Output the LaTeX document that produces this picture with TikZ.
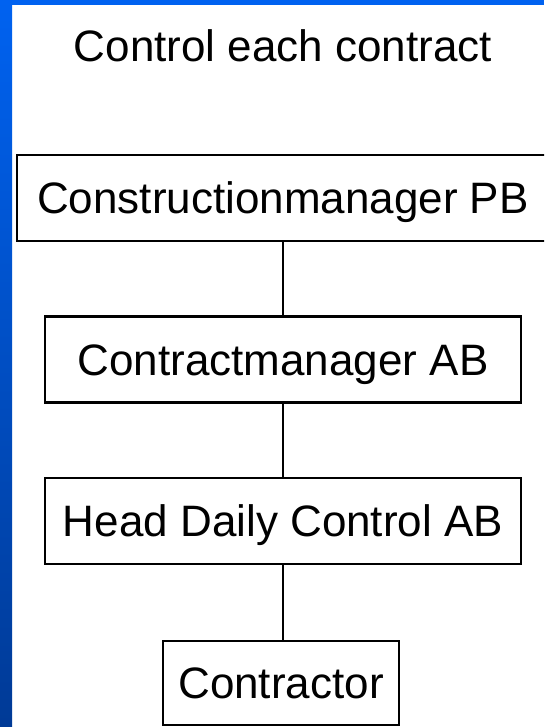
\documentclass[tikz,border=0pt]{standalone}
\usepackage{fontspec}
\setmainfont{Liberation Sans}
\definecolor{bluetop}{RGB}{0,98,240}
\definecolor{bluebot}{RGB}{0,58,150}
\tikzset{
  orgbox/.style={draw=black, line width=2.5pt, fill=white, inner sep=0pt,
    minimum height=86pt, text height=31.5pt, text depth=0pt,
    font=\fontsize{44}{53}\selectfont},
  titletext/.style={inner sep=0pt, text height=31.5pt, text depth=0pt,
    font=\fontsize{44}{53}\selectfont},
  link/.style={draw=black, line width=2.5pt}
}
\begin{document}
\begin{tikzpicture}[x=1pt, y=-1pt]
  \useasboundingbox (0,0) rectangle (544,727);
  \clip (0,0) rectangle (544,727);
  \fill[white] (0,0) rectangle (544,727);
  \fill[bluetop] (0,0) rectangle (544,5);
  \shade[top color=bluetop, bottom color=bluebot] (0,0) rectangle (12,727);

  \node[titletext] (title) at (283,46) {Control each contract};

  \node[orgbox, minimum width=532pt] (b1) at (283,198) {Constructionmanager PB};
  \node[orgbox, minimum width=476pt] (b2) at (283,359.5) {Contractmanager AB};
  \node[orgbox, minimum width=476pt] (b3) at (283,521) {Head Daily Control AB};
  \node[orgbox, minimum width=236pt, minimum height=84pt] (b4) at (281,683) {Contractor};

  \draw[link] (b1.south) -- (b2.north);
  \draw[link] (b2.south) -- (b3.north);
  \draw[link] (b3.south) -- (b3.south |- b4.north);
\end{tikzpicture}
\end{document}
